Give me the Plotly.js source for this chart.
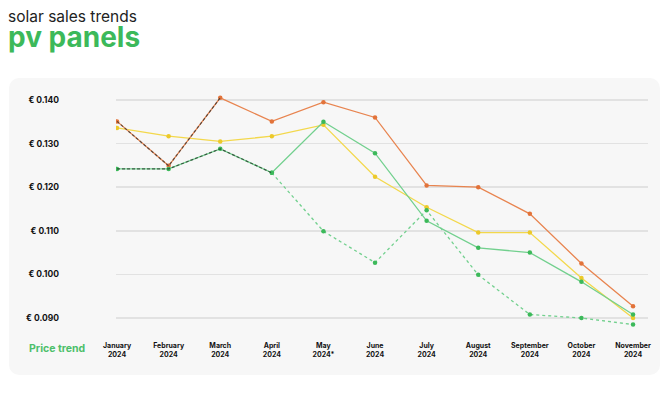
<!DOCTYPE html>
<html>
<head>
<meta charset="utf-8">
<script src="https://cdn.plot.ly/plotly-3.0.1.min.js"></script>
<style>
  html, body { margin: 0; padding: 0; background: #ffffff; }
  #wrap { position: relative; width: 662px; height: 394px; overflow: hidden; }
  #card { position: absolute; left: 9px; top: 78px; width: 651px; height: 297px; background: #f7f7f7; border-radius: 10px; }
  #chart { position: absolute; left: 0; top: 0; width: 662px; height: 394px; }
</style>
</head>
<body>
<div id="wrap">
  <div id="card"></div>
  <div id="chart"></div>
</div>
<script>
// ---- data ----
const months = ["January<br>2024", "February<br>2024", "March<br>2024", "April<br>2024", "May<br>2024*", "June<br>2024",
                "July<br>2024", "August<br>2024", "September<br>2024", "October<br>2024", "November<br>2024"];
const orangeSeries = [0.1351, 0.1249, 0.1405, 0.1351, 0.1395, 0.1360, 0.1204, 0.1200, 0.1139, 0.1025, 0.0927];
const yellowSeries = [0.1336, 0.1317, 0.1305, 0.1317, 0.1343, 0.1224, 0.1154, 0.1096, 0.1096, 0.0992, 0.0900];
const greenSeries  = [0.1242, 0.1242, 0.1288, 0.1233, 0.1350, 0.1278, 0.1123, 0.1061, 0.1050, 0.0983, 0.0908];
const greenDashed  = [null, null, null, 0.1233, 0.1099, 0.1027, 0.1147, 0.0999, 0.0908, 0.0900, 0.0885];
const orangeEarly  = [0.1351, 0.1249, 0.1405, null, null, null, null, null, null, null, null];
const greenEarly   = [0.1242, 0.1242, 0.1288, 0.1233, null, null, null, null, null, null, null];
const yTickVals = [0.09, 0.10, 0.11, 0.12, 0.13, 0.14];
const yTickText = ["€ 0.090", "€ 0.100", "€ 0.110", "€ 0.120", "€ 0.130", "€ 0.140"];

const ORANGE = "#e8844f", YELLOW = "#f3d84c", GREEN = "#72d08e", GREEN_D = "#3cb95a";

function line(y, color, mColor, dash, width, markers) {
  return {
    x: months, y: y, type: "scatter",
    mode: markers ? "lines+markers" : "lines",
    connectgaps: false,
    line: { color: color, width: width, dash: dash },
    marker: { color: mColor, size: 4.5 },
    hoverinfo: "skip", showlegend: false
  };
}

const traces = [
  line(yellowSeries, YELLOW, "#ecc92a", "solid", 1.3, true),
  line(orangeSeries, ORANGE, "#e2733a", "solid", 1.3, true),
  line(greenSeries, GREEN, GREEN_D, "solid", 1.3, true),
  line(greenDashed, GREEN, GREEN_D, "3px,3px", 1.3, true),
  line(orangeEarly, "rgba(60,55,50,0.8)", ORANGE, "3px,2px", 1.2, false),
  line(greenEarly, "rgba(40,60,45,0.8)", GREEN_D, "3px,2px", 1.2, false)
];

const FONT = "Inter, 'Open Sans', sans-serif";

const layout = {
  width: 662, height: 394,
  margin: { l: 116, r: 14, t: 95, b: 64 },
  paper_bgcolor: "rgba(0,0,0,0)",
  plot_bgcolor: "rgba(0,0,0,0)",
  font: { family: FONT, color: "#111" },
  xaxis: {
    type: "category",
    range: [-0.02, 10.29],
    showgrid: false, zeroline: false, showline: false,
    ticks: "", ticklabelstandoff: 10,
    tickfont: { family: FONT, size: 7, weight: 700, color: "#111" },
    fixedrange: true
  },
  yaxis: {
    range: [0.08725, 0.14115],
    tickvals: yTickVals, ticktext: yTickText,
    showgrid: true, gridcolor: "#e2e2e2", gridwidth: 1.5,
    zeroline: false, showline: false, ticks: "",
    ticklabelstandoff: 56,
    tickfont: { family: FONT, size: 8.5, weight: 700, color: "#111" },
    fixedrange: true
  },
  annotations: [
    { text: "solar sales trends", xref: "paper", yref: "paper",
      x: (6 - 116) / 532, y: (330 - 16) / 235, xanchor: "left", yanchor: "middle",
      showarrow: false, font: { family: FONT, size: 15.5, color: "#222" } },
    { text: "pv panels", xref: "paper", yref: "paper",
      x: (6 - 116) / 532, y: (330 - 37) / 235, xanchor: "left", yanchor: "middle",
      showarrow: false, font: { family: FONT, size: 28, weight: 700, color: GREEN_D } },
    { text: "Price trend", xref: "paper", yref: "paper",
      x: (27 - 116) / 532, y: (330 - 348) / 235, xanchor: "left", yanchor: "middle",
      showarrow: false, font: { family: FONT, size: 10.5, weight: 700, color: "#4cbf6a" } }
  ]
};

Plotly.newPlot("chart", traces, layout, { displayModeBar: false, staticPlot: true });
</script>
</body>
</html>
